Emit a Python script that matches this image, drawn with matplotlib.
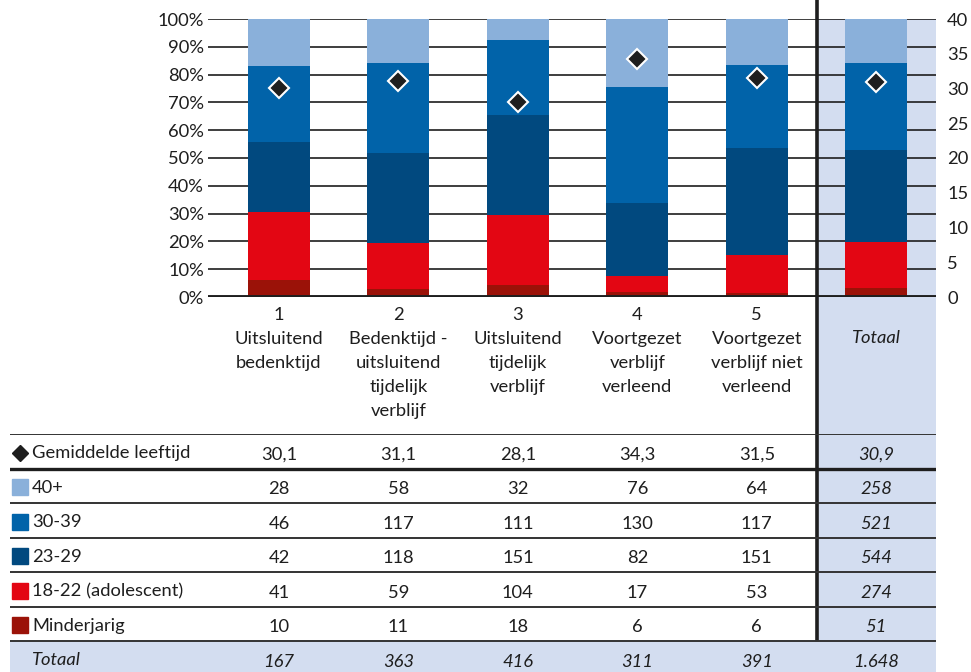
import matplotlib.pyplot as plt
from matplotlib.transforms import blended_transform_factory
from matplotlib.patches import Rectangle
from matplotlib.lines import Line2D

plt.rcParams['font.family'] = ['Lato', 'DejaVu Sans']

# data
categories = ['1\nUitsluitend\nbedenktijd',
              '2\nBedenktijd -\nuitsluitend\ntijdelijk\nverblijf',
              '3\nUitsluitend\ntijdelijk\nverblijf',
              '4\nVoortgezet\nverblijf\nverleend',
              '5\nVoortgezet\nverblijf niet\nverleend']
total_label = 'Totaal'
mean_age = [30.1, 31.1, 28.1, 34.3, 31.5, 30.9]
minderjarig = [10, 11, 18, 6, 6, 51]
adolescent = [41, 59, 104, 17, 53, 274]
age_23_29 = [42, 118, 151, 82, 151, 544]
age_30_39 = [46, 117, 111, 130, 117, 521]
age_40plus = [28, 58, 32, 76, 64, 258]
totals = [167, 363, 416, 311, 391, 1648]

# stacked bottom -> top
series = [minderjarig, adolescent, age_23_29, age_30_39, age_40plus]
series_names = ['Minderjarig', '18-22 (adolescent)', '23-29', '30-39', '40+']
colors = ['#9b1208', '#e30613', '#01497f', '#0163a9', '#8ab0da']
lavender = '#d3ddf0'
dark = '#1e1e1e'
fs = 13.2

W, H = 971, 672
fig = plt.figure(figsize=(W / 100, H / 100), dpi=100)

# main chart area (pixel layout)
ax = fig.add_axes([208 / W, 1 - 297 / H, 728 / W, 278 / H])
ax.set_facecolor('none')
x = list(range(len(totals)))
bottom = [0] * len(totals)
for vals, col in zip(series, colors):
    pct = [v / t * 100 for v, t in zip(vals, totals)]
    ax.bar(x, pct, bottom=bottom, width=0.52, color=col, zorder=2)
    bottom = [b + p for b, p in zip(bottom, pct)]

ax.set_xlim(-0.594, 5.5)
ax.set_ylim(0, 100)
ax.set_yticks(range(0, 101, 10))
ax.set_yticklabels([f'{v}%' for v in range(0, 101, 10)])
ax.grid(axis='y', color=dark, lw=1.2, zorder=0.5)
ax.set_axisbelow(True)
ax.axhline(0, color=dark, lw=2.8, zorder=3)
for s in ax.spines.values():
    s.set_visible(False)
ax.tick_params(axis='y', length=0, pad=3, labelsize=fs, labelcolor=dark)
ax.set_xticks(x[:5])
ax.set_xticklabels(categories, fontsize=fs, linespacing=1.62, color=dark)
ax.tick_params(axis='x', length=0, pad=7)
ax.text(5, -0.147, total_label, transform=blended_transform_factory(ax.transData, ax.transAxes),
        ha='center', va='center', fontsize=fs, style='italic', color=dark)

# lavender total column and separator
ax.add_patch(Rectangle((4.5, -2), 1.0, 3.0, transform=blended_transform_factory(ax.transData, ax.transAxes),
                       color=lavender, zorder=0.1, clip_on=False, lw=0))
ax.add_line(Line2D([4.5, 4.5], [-2, 1.07], transform=blended_transform_factory(ax.transData, ax.transAxes),
                   color=dark, lw=2.6, zorder=6, clip_on=False))

# mean age on right axis
ax2 = ax.twinx()
ax2.set_ylim(0, 40)
ax2.set_yticks(range(0, 41, 5))
for s in ax2.spines.values():
    s.set_visible(False)
ax2.tick_params(axis='y', length=0, pad=8, labelsize=fs, labelcolor=dark)
ax2.plot(x, mean_age, 'D', ls='none', color=dark, mec='white', mew=1.5, ms=10, zorder=5)

# table
tab_top, row_h = 434, 34.5
ax_t = fig.add_axes([10 / W, 0, 926 / W, (H - tab_top) / H])
ax_t.set_facecolor('none')
ax_t.set_xlim(0, 1)
ax_t.set_ylim((H - tab_top) / row_h, 0)
ax_t.axis('off')

row_names = ['Gemiddelde leeftijd'] + series_names[::-1] + ['Totaal']
row_values = [[f'{v:.1f}'.replace('.', ',') for v in mean_age]]
for vals in series[::-1]:
    row_values.append([str(v) for v in vals])
row_values.append([f'{v:,}'.replace(',', '.') for v in totals])
row_markers = [('D', dark, 8.5)] + [('s', c, 11.5) for c in colors[::-1]] + [None]

ax_t.add_patch(Rectangle((0, len(row_names) - 1), 1, 2, color=lavender, lw=0, zorder=0))
for i in range(len(row_names) + 1):
    lw = 2.4 if i == 1 else 1.4
    ax_t.axhline(i, color='#333333' if i != 1 else dark, lw=lw, zorder=1)

tx = blended_transform_factory(ax.transData, ax_t.transData)
for i, (name, vals, mk) in enumerate(zip(row_names, row_values, row_markers)):
    yc = i + 0.5
    italic = 'italic' if name == 'Totaal' else 'normal'
    ax_t.text(0.0238, yc + 0.06, name, ha='left', va='center', fontsize=fs, color=dark, style=italic)
    if mk is not None:
        ax_t.plot([0.0103], [yc + 0.04], marker=mk[0], color=mk[1], ms=mk[2], ls='none', zorder=3)
    for j, v in enumerate(vals):
        st = 'italic' if (name == 'Totaal' or j == len(vals) - 1) else 'normal'
        ax_t.text(j, yc + 0.1, v, transform=tx, ha='center', va='center', fontsize=fs,
                  color=dark, style=st)

fig.savefig('out.png', dpi=100)
